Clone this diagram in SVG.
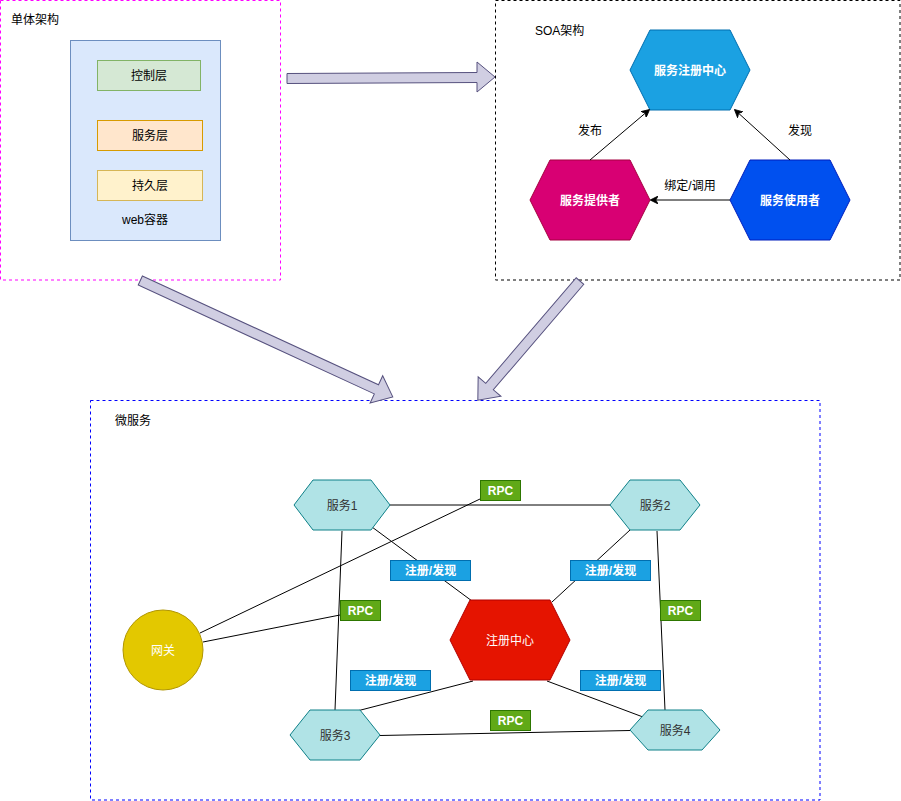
<svg xmlns="http://www.w3.org/2000/svg" width="901" height="801" viewBox="0 0 901 801">
<defs>
<marker id="arr" viewBox="0 0 10 10" refX="9" refY="5" markerWidth="8" markerHeight="8" orient="auto" markerUnits="userSpaceOnUse">
<path d="M0,0 L10,5 L0,10 L3,5 Z" fill="#000" stroke="#000"/>
</marker>
</defs>
<style>
text{font-family:"Liberation Sans","Noto Sans CJK SC",sans-serif;font-size:12px;fill:#000;text-anchor:middle;dominant-baseline:central}
.lbl{text-anchor:start}
.w{fill:#fff}
.b{font-weight:bold}
.svc{fill:#b0e3e6;stroke:#0e8088}
.rpc{fill:#60a917;stroke:#2d7600}
.reg{fill:#1ba1e2;stroke:#006eaf}
.big{fill:#d0cee2;stroke:#56517e}
.ln{stroke:#000;stroke-width:1;fill:none}
</style>
<rect width="901" height="801" fill="#fff"/>

<g id="monolith">
<rect x="0.5" y="0.5" width="280" height="279.5" fill="none" stroke="#ff00ff" stroke-dasharray="3,3"/>
<text class="lbl" x="11" y="20">单体架构</text>
</g>
<g id="web-container">
<rect x="70.5" y="40.5" width="150" height="200" fill="#dae8fc" stroke="#6c8ebf"/>
<text x="145" y="220">web容器</text>
</g>
<g id="control-layer">
<rect x="97.5" y="60.5" width="103" height="30" fill="#d5e8d4" stroke="#82b366"/>
<text x="149" y="76">控制层</text>
</g>
<g id="service-layer">
<rect x="97.5" y="120.5" width="105" height="30" fill="#ffe6cc" stroke="#d79b00"/>
<text x="150" y="136">服务层</text>
</g>
<g id="persist-layer">
<rect x="97.5" y="170.5" width="105" height="30" fill="#fff2cc" stroke="#d6b656"/>
<text x="150" y="186">持久层</text>
</g>

<g id="soa">
<rect x="495.5" y="0.5" width="404.5" height="279.5" fill="none" stroke="#000" stroke-dasharray="3,3"/>
<text class="lbl" x="535" y="31">SOA架构</text>
</g>
<g id="registry-soa">
<polygon points="630,70 650,30 730,30 750,70 730,110 650,110" fill="#1ba1e2" stroke="#006eaf"/>
<text class="w b" x="690" y="71">服务注册中心</text>
</g>
<g id="provider">
<polygon points="530,200 550,160 630,160 650,200 630,240 550,240" fill="#d80073" stroke="#a50040"/>
<text class="w b" x="590" y="201">服务提供者</text>
</g>
<g id="consumer">
<polygon points="730,200 750,160 830,160 850,200 830,240 750,240" fill="#0050ef" stroke="#001dbc"/>
<text class="w b" x="790" y="201">服务使用者</text>
</g>

<g id="micro">
<rect x="90.5" y="400.5" width="729.5" height="399.5" fill="none" stroke="#0000ff" stroke-dasharray="3,3"/>
<text class="lbl" x="115" y="421">微服务</text>
</g>

<g id="connectors">
<line class="ln" x1="590" y1="160" x2="649" y2="110" marker-end="url(#arr)"/>
<line class="ln" x1="790" y1="160" x2="735" y2="110" marker-end="url(#arr)"/>
<line class="ln" x1="730" y1="200" x2="651" y2="200" marker-end="url(#arr)"/>
<text x="590" y="131">发布</text>
<text x="800" y="131">发现</text>
<text x="690" y="186">绑定/调用</text>

<polygon class="big" points="287,73.5 477,72.5 477,62 495,77 477,92 477,82.5 287,83.5"/>
<polygon class="big" transform="translate(140.3,280.5) rotate(24.75)" points="0,-5 260,-5 260,-15 278,0 260,15 260,5 0,5"/>
<polygon class="big" transform="translate(580,281) rotate(130.6)" points="0,-5 139,-5 139,-15 157,0 139,15 139,5 0,5"/>

<line class="ln" x1="390" y1="505" x2="610" y2="505"/>
<line class="ln" x1="372" y1="527" x2="472" y2="601"/>
<line class="ln" x1="630" y1="530" x2="552" y2="602"/>
<line class="ln" x1="357" y1="711" x2="473" y2="681"/>
<line class="ln" x1="547" y1="681" x2="643" y2="717"/>
<line class="ln" x1="380" y1="735.5" x2="630" y2="730.5"/>
<line class="ln" x1="342" y1="531" x2="335" y2="710"/>
<line class="ln" x1="657" y1="531" x2="665" y2="710"/>
<line class="ln" x1="200" y1="633" x2="480" y2="499"/>
<line class="ln" x1="203" y1="642" x2="340" y2="615"/>
</g>

<g id="svc1">
<polygon class="svc" points="294,505 313,480 371,480 390,505 371,530 313,530"/>
<text x="342" y="506" style="fill:#333">服务1</text>
</g>
<g id="svc2">
<polygon class="svc" points="610,505 630,480 680,480 700,505 680,530 630,530"/>
<text x="655" y="506" style="fill:#333">服务2</text>
</g>
<g id="svc3">
<polygon class="svc" points="290,735 310,710 360,710 380,735 360,760 310,760"/>
<text x="335" y="736" style="fill:#333">服务3</text>
</g>
<g id="svc4">
<polygon class="svc" points="630,730 648,710 702,710 720,730 702,750 648,750"/>
<text x="675" y="731" style="fill:#333">服务4</text>
</g>
<g id="registry">
<polygon points="450,640 470,600 550,600 570,640 550,680 470,680" fill="#e51400" stroke="#b20000"/>
<text class="w" x="510" y="641">注册中心</text>
</g>
<g id="gateway">
<circle cx="163" cy="650" r="40" fill="#e3c800" stroke="#b09500"/>
<text class="w" x="163" y="651">网关</text>
</g>

<g id="rpc-top"><rect class="rpc" x="480.5" y="480.5" width="40" height="20"/><text class="w b" x="500.5" y="491">RPC</text></g>
<g id="rpc-left"><rect class="rpc" x="340.5" y="600.5" width="40" height="20"/><text class="w b" x="360.5" y="611">RPC</text></g>
<g id="rpc-right"><rect class="rpc" x="660.5" y="600.5" width="40" height="20"/><text class="w b" x="680.5" y="611">RPC</text></g>
<g id="rpc-bottom"><rect class="rpc" x="490.5" y="710.5" width="40" height="20"/><text class="w b" x="510.5" y="721">RPC</text></g>

<g id="reg1"><rect class="reg" x="390.5" y="560.5" width="80" height="20"/><text class="w b" x="430.5" y="571">注册/发现</text></g>
<g id="reg2"><rect class="reg" x="570.5" y="560.5" width="80" height="20"/><text class="w b" x="610.5" y="571">注册/发现</text></g>
<g id="reg3"><rect class="reg" x="350.5" y="670.5" width="80" height="20"/><text class="w b" x="390.5" y="681">注册/发现</text></g>
<g id="reg4"><rect class="reg" x="580.5" y="670.5" width="80" height="20"/><text class="w b" x="620.5" y="681">注册/发现</text></g>
</svg>
